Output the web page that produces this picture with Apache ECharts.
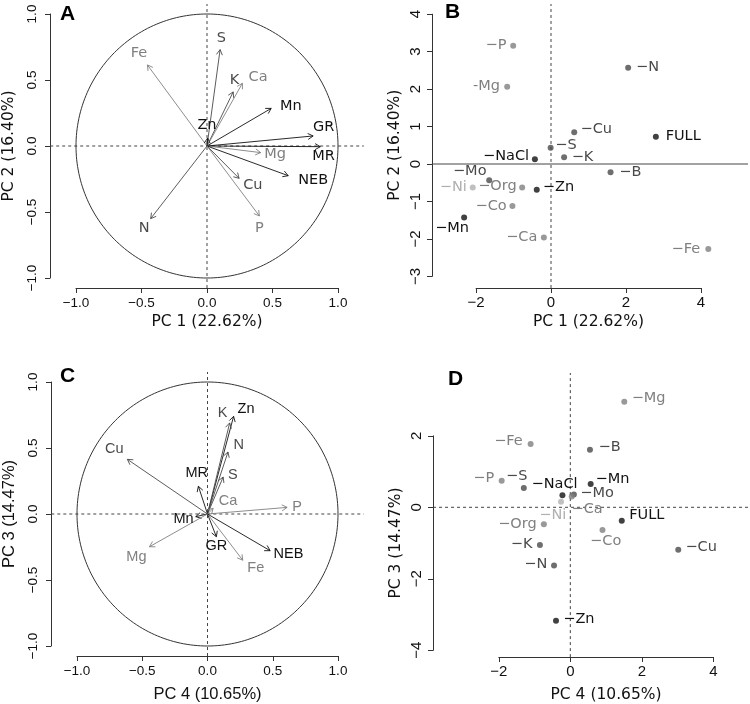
<!DOCTYPE html>
<html>
<head>
<meta charset="utf-8">
<script src="https://cdn.jsdelivr.net/npm/echarts@6/dist/echarts.min.js"></script>
<style>html,body{margin:0;padding:0;background:#fff}#c{width:750px;height:704px}</style>
</head>
<body>
<div id="c"></div>
<script>
// ---------------- DATA ----------------
// Panel A: variable loadings PC1 vs PC2
const loadA_vars = ['Fe','S','K','Ca','Mn','Zn','GR','MR','Mg','NEB','Cu','P','N'];
const loadA_pc1  = [-0.455,0.10,0.20,0.27,0.49,0.005,0.81,0.865,0.41,0.62,0.245,0.40,-0.43];
const loadA_pc2  = [0.614,0.73,0.41,0.475,0.285,0.06,0.076,-0.005,-0.05,-0.225,-0.245,-0.53,-0.55];
const loadA_lblX = [-0.52,0.11,0.21,0.39,0.64,0.0,0.89,0.89,0.52,0.81,0.35,0.40,-0.48];
const loadA_lblY = [0.70,0.82,0.50,0.52,0.30,0.16,0.14,-0.08,-0.06,-0.26,-0.30,-0.62,-0.62];

// Panel B: treatment scores PC1 vs PC2
const scoreB_names = ['−P','-Mg','−N','−Cu','FULL','−S','−K','−NaCl','−B','−Mo','−Ni','−Org','−Zn','−Co','−Mn','−Ca','−Fe'];
const scoreB_pc1  = [-1.01,-1.17,2.06,0.62,2.80,-0.01,0.35,-0.43,1.59,-1.65,-2.09,-0.77,-0.38,-1.03,-2.32,-0.19,4.20];
const scoreB_pc2  = [3.16,2.06,2.57,0.85,0.73,0.435,0.18,0.125,-0.22,-0.435,-0.63,-0.63,-0.69,-1.12,-1.43,-1.96,-2.27];
const scoreB_lblX = [-1.47,-1.72,2.58,1.21,3.53,0.40,0.84,-1.20,2.12,-2.17,-2.61,-1.43,0.20,-1.60,-2.64,-0.78,3.60];
const scoreB_lblY = [3.16,2.08,2.58,0.92,0.73,0.51,0.18,0.22,-0.22,-0.205,-0.63,-0.59,-0.63,-1.12,-1.71,-1.96,-2.27];

// Panel C: variable loadings PC4 vs PC3
const loadC_vars = ['Zn','K','N','S','MR','Ca','Cu','P','Mn','Mg','GR','Fe','NEB'];
const loadC_pc4  = [0.20,0.17,0.157,0.12,-0.07,0.043,-0.614,0.61,-0.09,-0.445,0.068,0.27,0.48];
const loadC_pc3  = [0.74,0.69,0.47,0.28,0.21,0.043,0.414,0.05,-0.02,-0.248,-0.172,-0.35,-0.278];
const loadC_lblX = [0.295,0.115,0.24,0.195,-0.083,0.157,-0.714,0.687,-0.184,-0.545,0.068,0.37,0.62];
const loadC_lblY = [0.795,0.765,0.52,0.295,0.31,0.10,0.49,0.05,-0.04,-0.323,-0.242,-0.41,-0.305];

// Panel D: treatment scores PC4 vs PC3
const scoreD_names = ['−Mg','−Fe','−B','−P','−S','−NaCl','−Mn','−Mo','−Ni','−Ca','FULL','−Org','−Co','−K','−N','−Cu','−Zn'];
const scoreD_pc4  = [1.51,-1.11,0.55,-1.92,-1.30,-0.22,0.57,0.10,-0.26,0.04,1.44,-0.74,0.90,-0.85,-0.455,3.02,-0.40];
const scoreD_pc3  = [2.95,1.77,1.61,0.74,0.54,0.34,0.65,0.36,0.157,0.30,-0.375,-0.475,-0.635,-1.055,-1.63,-1.19,-3.17];
const scoreD_lblX = [2.19,-1.73,1.10,-2.42,-1.50,-0.44,1.18,0.75,-0.49,0.47,2.14,-1.48,0.99,-1.36,-0.965,3.66,0.24];
const scoreD_lblY = [3.05,1.85,1.68,0.81,0.86,0.65,0.79,0.39,-0.215,-0.06,-0.23,-0.475,-0.94,-1.035,-1.595,-1.13,-3.13];

// axis titles & panel letters
const axisTitles = ['PC 1 (22.62%)','PC 2 (16.40%)','PC 4 (10.65%)','PC 3 (14.47%)'];
const panelLetters = ['A','B','C','D'];
// plot-region extents (data units) for reference lines
const regionA = {x:[-1.197,1.197], y:[-1.076,1.076]};
const regionB = {x:[-3.18,5.26], y:[-3.31,4.27]};
const regionC = {x:[-1.197,1.197], y:[-1.076,1.076]};
const regionD = {x:[-3.84,4.97], y:[-4.19,3.76]};

// shading group of each element / treatment
const groupOf = {Mn:0,Zn:0,GR:0,MR:0,NEB:0,NaCl:0,FULL:0,
  N:1,Cu:1,S:1,K:1,B:1,Mo:1,
  P:2,Mg:2,Org:2,Co:2,Ca:2,Fe:2,
  Ni:3};
const palette = ['#121212','#4a4a4a','#808080','#b0b0b0'];
function colorFor(name){ const k = name.replace(/^[−-]/,''); return palette[groupOf[k] ?? 0]; }

// ---------------- CHART ----------------
const chart = echarts.init(document.getElementById('c'), null, {renderer:'canvas'});
const DJ = 'DejaVu Sans', LS = 'Liberation Sans';

const fmt1 = v => (v<0?'−':'') + Math.abs(v).toFixed(1);
const fmt0 = v => (v<0?'−':'') + Math.abs(v).toFixed(0);

function xAx(gi, min, max, interval, fmt, offset, name, nameGap, tickFont, tickSize, nameFont, nameSize, margin){
  return {type:'value', gridIndex:gi, min, max, interval, offset, name, nameLocation:'middle', nameGap,
    nameTextStyle:{fontFamily:nameFont, fontSize:nameSize, color:'#111'},
    axisLine:{show:true, onZero:false, lineStyle:{color:'#333', width:1}},
    axisTick:{show:true, length:5, lineStyle:{color:'#333'}},
    axisLabel:{formatter:fmt, fontFamily:tickFont, fontSize:tickSize, color:'#111', margin, showMinLabel:true, showMaxLabel:true},
    splitLine:{show:false}};
}
function yAx(gi, min, max, interval, fmt, offset, name, nameGap, tickFont, tickSize, nameFont, nameSize, margin){
  return {type:'value', gridIndex:gi, min, max, interval, offset, name, nameLocation:'middle', nameGap, nameRotate:90,
    nameTextStyle:{fontFamily:nameFont, fontSize:nameSize, color:'#111'},
    axisLine:{show:true, onZero:false, lineStyle:{color:'#333', width:1}},
    axisTick:{show:true, length:5, lineStyle:{color:'#333'}},
    axisLabel:{formatter:fmt, rotate:90, fontFamily:tickFont, fontSize:tickSize, color:'#111', margin, showMinLabel:true, showMaxLabel:true},
    splitLine:{show:false}};
}

// reference line drawn as a custom series (not clipped to the grid)
function refLine(gi, p0, p1, dashed){
  return {type:'custom', xAxisIndex:gi, yAxisIndex:gi, clip:false, silent:true, z:1,
    data:[[p0[0],p0[1],p1[0],p1[1]]],
    renderItem:(params, api)=>{
      const a = api.coord([api.value(0), api.value(1)]);
      const b = api.coord([api.value(2), api.value(3)]);
      return {type:'line', shape:{x1:a[0],y1:a[1],x2:b[0],y2:b[1]},
        style:{stroke:'#444', lineWidth:1, lineDash: dashed ? [3,3] : null}};
    }};
}
function circleSeries(gi){
  const pts = [];
  for(let k=0;k<=240;k++){ const a = k/240*2*Math.PI; pts.push([Math.cos(a), Math.sin(a)]); }
  return {type:'line', xAxisIndex:gi, yAxisIndex:gi, data:pts, showSymbol:false, symbol:'none', clip:false, silent:true,
    lineStyle:{color:'#333', width:1}, z:1};
}
function arrowSeries(gi, names, xs, ys){
  return {type:'custom', xAxisIndex:gi, yAxisIndex:gi, clip:false, silent:true, z:3,
    data: xs.map((x,i)=>[x, ys[i], i]),
    renderItem:(params, api)=>{
      const i = api.value(2);
      const o = api.coord([0,0]);
      const t = api.coord([api.value(0), api.value(1)]);
      const col = colorFor(names[i]);
      const ang = Math.atan2(t[1]-o[1], t[0]-o[0]);
      const L = 6, a = Math.PI/6;
      const h1 = [t[0]-L*Math.cos(ang-a), t[1]-L*Math.sin(ang-a)];
      const h2 = [t[0]-L*Math.cos(ang+a), t[1]-L*Math.sin(ang+a)];
      return {type:'group', children:[
        {type:'line', shape:{x1:o[0],y1:o[1],x2:t[0],y2:t[1]}, style:{stroke:col, lineWidth:0.9}},
        {type:'polyline', shape:{points:[h1,t,h2]}, style:{stroke:col, fill:null, lineWidth:0.9}}
      ]};
    }};
}
function labelSeries(gi, names, xs, ys, font, size){
  return {type:'custom', xAxisIndex:gi, yAxisIndex:gi, clip:false, silent:true, z:4,
    data: xs.map((x,i)=>[x, ys[i], i]),
    renderItem:(params, api)=>{
      const i = api.value(2);
      const p = api.coord([api.value(0), api.value(1)]);
      return {type:'text', x:p[0], y:p[1], style:{text:names[i], fill:colorFor(names[i]),
        fontFamily:font, fontSize:size, align:'center', verticalAlign:'middle'}};
    }};
}
function pointSeries(gi, names, xs, ys){
  return {type:'scatter', xAxisIndex:gi, yAxisIndex:gi, clip:false, silent:true, symbol:'circle', symbolSize:6, z:3,
    data: xs.map((x,i)=>({value:[x, ys[i]], itemStyle:{color:colorFor(names[i])}}))};
}
function hline(gi, reg, dashed){ return refLine(gi, [reg.x[0],0], [reg.x[1],0], dashed); }
function vline(gi, reg){ return refLine(gi, [0,reg.y[0]], [0,reg.y[1]], true); }

const option = {
  animation:false,
  grid:[
    {left:74, top:14, width:264, height:264},
    {left:476.1, top:14.2, width:224.7, height:262.15},
    {left:74, top:382, width:264, height:264},
    {left:498.8, top:435.8, width:214.5, height:214.5}
  ],
  xAxis:[
    xAx(0,-1,1,0.5,fmt1,10,axisTitles[0],26,LS,13.5,DJ,15.5,8),
    xAx(1,-2,4,2,fmt0,11.65,axisTitles[0],26,LS,15,DJ,15.5,7),
    xAx(2,-1,1,0.5,fmt1,10,axisTitles[2],30,LS,13.5,LS,16.5,8),
    xAx(3,-2,4,2,fmt0,6.7,axisTitles[2],30,LS,15,DJ,15.5,7)
  ],
  yAxis:[
    yAx(0,-1,1,0.5,fmt1,26,axisTitles[1],33,LS,13.5,DJ,15.5,11),
    yAx(1,-3,4,1,fmt0,44.1,axisTitles[1],29,LS,15,DJ,15.5,9),
    yAx(2,-1,1,0.5,fmt1,26,axisTitles[3],33,LS,13.5,LS,16.5,11),
    yAx(3,-4,2,2,fmt0,65.8,axisTitles[3],29,LS,15,DJ,15.5,9)
  ],
  graphic:[
    {type:'text', left:60, top:4, style:{text:panelLetters[0], fontFamily:LS, fontWeight:'bold', fontSize:21, fill:'#000'}},
    {type:'text', left:445, top:2, style:{text:panelLetters[1], fontFamily:LS, fontWeight:'bold', fontSize:21, fill:'#000'}},
    {type:'text', left:60, top:366, style:{text:panelLetters[2], fontFamily:LS, fontWeight:'bold', fontSize:21, fill:'#000'}},
    {type:'text', left:448, top:369, style:{text:panelLetters[3], fontFamily:LS, fontWeight:'bold', fontSize:21, fill:'#000'}}
  ],
  series:[
    // Panel A
    hline(0, regionA, true), vline(0, regionA), circleSeries(0),
    arrowSeries(0, loadA_vars, loadA_pc1, loadA_pc2),
    labelSeries(0, loadA_vars, loadA_lblX, loadA_lblY, DJ, 14.5),
    // Panel B
    hline(1, regionB, false), vline(1, regionB),
    pointSeries(1, scoreB_names, scoreB_pc1, scoreB_pc2),
    labelSeries(1, scoreB_names, scoreB_lblX, scoreB_lblY, DJ, 14.5),
    // Panel C
    hline(2, regionC, true), vline(2, regionC), circleSeries(2),
    arrowSeries(2, loadC_vars, loadC_pc4, loadC_pc3),
    labelSeries(2, loadC_vars, loadC_lblX, loadC_lblY, LS, 14.5),
    // Panel D
    hline(3, regionD, true), vline(3, regionD),
    pointSeries(3, scoreD_names, scoreD_pc4, scoreD_pc3),
    labelSeries(3, scoreD_names, scoreD_lblX, scoreD_lblY, DJ, 14.5)
  ]
};
chart.setOption(option);
</script>
</body>
</html>
